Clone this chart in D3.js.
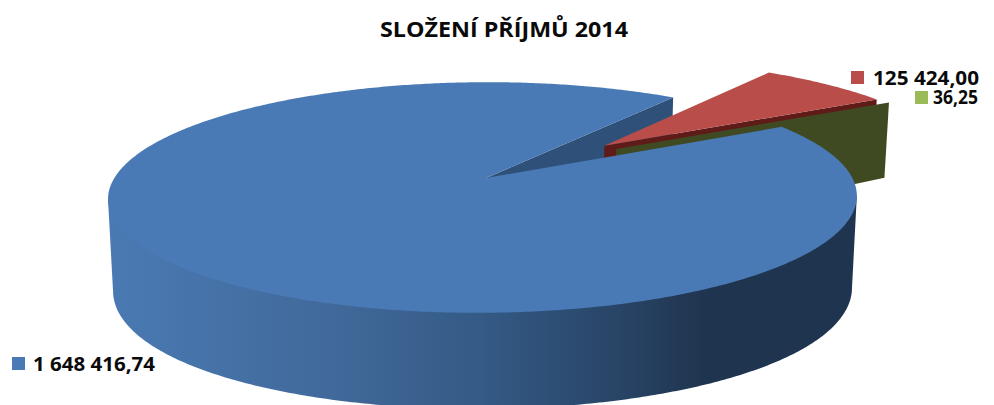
<!DOCTYPE html>
<html><head><meta charset="utf-8">
<style>html,body{margin:0;padding:0;background:#fff;overflow:hidden}svg{display:block}text{font-family:"Open Sans",sans-serif;font-weight:700;fill:#0a0a0a}</style>
<script src="https://cdn.jsdelivr.net/npm/d3@7"></script></head><body>
<script>
const title = "SLOŽENÍ PŘÍJMŮ 2014";
const categories = ["A", "B", "C"];
const values = [1648416.74, 125424.00, 36.25];
const labels = ["1 648 416,74", "125 424,00", "36,25"];
const topColors = ["#4a7ab5", "#b94d4a", "#9bbb59"];
const wallColors = ["#2f5179", "#5f1b18", "#3f4a22"];
const explode = [[0, 0], [0.338, -0.30], [0.37, -0.266]];
// square x, square bottom, text x, baseline, text width
const labelPos = [[12, 370, 33, 371, 122], [851, 84, 873, 85, 106], [915, 104, 933, 104, 45]];

const W = 994, H = 405;
const svg = d3.select("body").append("svg").attr("width", W).attr("height", H);

const startDeg = 60.9;
const arcs = d3.pie().sort(null).startAngle(startDeg * Math.PI / 180)
  .endAngle((startDeg + 360) * Math.PI / 180)(values);

const ax = 486, ay = 178;
const sx = d3.scaleLinear().domain([-1, 1]).range([ax - 369, ax + 369]);
const sy = d3.scaleLinear().domain([-1, 1]).range([ay - 112, ay + 112]);
const k = 0.169, j = 0.0094, m = 0.013, tilt = 0.004;
const depth = v => 89.9 + 13.67 * v - 7.36 * v * v;
function proj(u, v, z) {
  const w = 1 - k * v + j * u;
  const x = ax + (sx(u) - ax) / (w + m * z);
  return [x, ay + (sy(v) - ay) / w + depth(v) * z - tilt * (x - ax)];
}
const rim = (a, off, z) => proj(Math.sin(a) + off[0], -Math.cos(a) + off[1], z);
const centre = (off, z) => proj(off[0], off[1], z);
function arcPts(a0, a1, off, z) {
  const n = Math.max(2, Math.ceil(Math.abs(a1 - a0) / 0.01));
  return d3.range(n + 1).map(i => rim(a0 + (a1 - a0) * i / n, off, z));
}
const line = d3.line();
const closed = p => line(p) + "Z";

const defs = svg.append("defs");
const grad = defs.append("linearGradient").attr("id", "wall")
  .attr("gradientUnits", "userSpaceOnUse").attr("x1", 108).attr("x2", 857).attr("y1", 0).attr("y2", 0);
[[0, "#4a7ab3"], [0.12, "#4673a9"], [0.3, "#41699a"], [0.5, "#345a85"], [0.7, "#274263"], [0.8, "#1f344e"], [1, "#1f344e"]]
  .forEach(s => grad.append("stop").attr("offset", s[0]).attr("stop-color", s[1]));

const [blue, red, green] = arcs;
const off = explode;

svg.append("path").attr("fill", wallColors[0]).attr("d", closed([
  centre(off[0], 0), rim(blue.endAngle, off[0], 0), rim(blue.endAngle, off[0], 1), centre(off[0], 1)]));

svg.append("path").attr("fill", wallColors[1]).attr("d", closed([
  centre(off[1], 0), rim(red.endAngle, off[1], 0), rim(red.endAngle, off[1], 1), centre(off[1], 1)]));
svg.append("path").attr("fill", topColors[1]).attr("d", closed([
  centre(off[1], 0), ...arcPts(red.startAngle, red.endAngle, off[1], 0)]));

svg.append("path").attr("fill", wallColors[2]).attr("d", closed([
  centre(off[2], 0), rim(green.startAngle, off[2], 0), rim(green.startAngle, off[2], 1), centre(off[2], 1)]));

// outer wall: from the left tangent round the front to the right tangent
const tanA = Math.acos(-k);
svg.append("path").attr("fill", "url(#wall)").attr("d", closed([
  rim(tanA, off[0], 0), centre(off[0], 0), rim(2 * Math.PI - tanA, off[0], 0),
  ...arcPts(2 * Math.PI - tanA, tanA, off[0], 1)]));
svg.append("path").attr("fill", topColors[0]).attr("d", closed([
  centre(off[0], 0), ...arcPts(blue.startAngle, blue.endAngle, off[0], 0)]));

svg.append("text").attr("x", 504).attr("y", 37).attr("text-anchor", "middle")
  .attr("font-size", 21).attr("textLength", 248).attr("lengthAdjust", "spacingAndGlyphs").text(title);

labelPos.forEach((p, i) => {
  svg.append("rect").attr("x", p[0]).attr("y", p[1] - 13).attr("width", 13).attr("height", 13).attr("fill", topColors[i]);
  svg.append("text").attr("x", p[2]).attr("y", p[3]).attr("font-size", 20)
    .attr("textLength", p[4]).attr("lengthAdjust", "spacingAndGlyphs").text(labels[i]);
});
</script></body></html>
